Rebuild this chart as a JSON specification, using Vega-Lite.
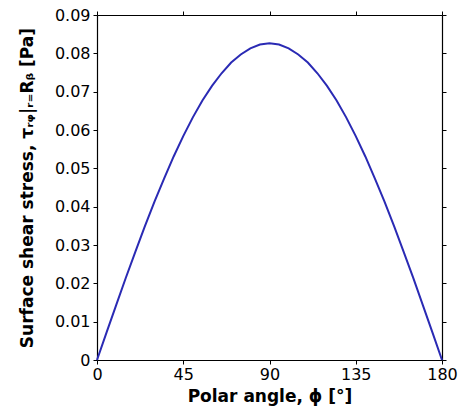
{
  "$schema": "https://vega.github.io/schema/vega-lite/v6.json",
  "width": 345,
  "height": 345,
  "autosize": "none",
  "padding": {"left": 97, "top": 15, "right": 20, "bottom": 49},
  "background": "white",
  "config": {
    "view": {"stroke": null},
    "font": "DejaVu Sans",
    "axis": {
      "domainColor": "black",
      "domainWidth": 1.2,
      "tickColor": "black",
      "tickSize": 4,
      "tickWidth": 1,
      "grid": false,
      "labelFlush": false,
      "labelOverlap": false,
      "labelFont": "DejaVu Sans",
      "labelFontSize": 16,
      "labelColor": "black",
      "titleFont": "DejaVu Sans",
      "titleFontSize": 17,
      "titleFontWeight": "bold",
      "titleColor": "black"
    }
  },
  "data": {
    "values": [
      {"phi": 0, "tau": 0},
      {"phi": 5, "tau": 0.0072},
      {"phi": 10, "tau": 0.0143},
      {"phi": 15, "tau": 0.0214},
      {"phi": 20, "tau": 0.0282},
      {"phi": 25, "tau": 0.0349},
      {"phi": 30, "tau": 0.0413},
      {"phi": 35, "tau": 0.0473},
      {"phi": 40, "tau": 0.0531},
      {"phi": 45, "tau": 0.0584},
      {"phi": 50, "tau": 0.0633},
      {"phi": 55, "tau": 0.0677},
      {"phi": 60, "tau": 0.0715},
      {"phi": 65, "tau": 0.0748},
      {"phi": 70, "tau": 0.0776},
      {"phi": 75, "tau": 0.0797},
      {"phi": 80, "tau": 0.0813},
      {"phi": 85, "tau": 0.0823},
      {"phi": 90, "tau": 0.0826},
      {"phi": 95, "tau": 0.0823},
      {"phi": 100, "tau": 0.0813},
      {"phi": 105, "tau": 0.0797},
      {"phi": 110, "tau": 0.0776},
      {"phi": 115, "tau": 0.0748},
      {"phi": 120, "tau": 0.0715},
      {"phi": 125, "tau": 0.0677},
      {"phi": 130, "tau": 0.0633},
      {"phi": 135, "tau": 0.0584},
      {"phi": 140, "tau": 0.0531},
      {"phi": 145, "tau": 0.0473},
      {"phi": 150, "tau": 0.0413},
      {"phi": 155, "tau": 0.0349},
      {"phi": 160, "tau": 0.0282},
      {"phi": 165, "tau": 0.0214},
      {"phi": 170, "tau": 0.0143},
      {"phi": 175, "tau": 0.0072},
      {"phi": 180, "tau": 0}
    ]
  },
  "layer": [
    {
      "mark": {"type": "line", "color": "#2a2ab4", "strokeWidth": 2},
      "encoding": {
        "x": {
          "field": "phi",
          "type": "quantitative",
          "scale": {"domain": [0, 180], "nice": false, "zero": false},
          "axis": {
            "orient": "bottom",
            "values": [0, 45, 90, 135, 180],
            "title": "Polar angle, ϕ [°]",
            "labelPadding": 2,
            "titlePadding": 6
          }
        },
        "y": {
          "field": "tau",
          "type": "quantitative",
          "scale": {"domain": [0, 0.09], "nice": false},
          "axis": {
            "orient": "left",
            "values": [0, 0.01, 0.02, 0.03, 0.04, 0.05, 0.06, 0.07, 0.08, 0.09],
            "format": "~g",
            "title": "Surface shear stress, τᵣᵩ|ᵣ₌Rᵦ [Pa]",
            "labelPadding": 3,
            "titlePadding": 18
          }
        }
      }
    },
    {
      "mark": {"type": "line", "opacity": 0},
      "encoding": {
        "x": {
          "field": "phi",
          "type": "quantitative",
          "axis": {
            "orient": "top",
            "values": [0, 45, 90, 135, 180],
            "labels": false,
            "title": null
          }
        },
        "y": {
          "field": "tau",
          "type": "quantitative",
          "axis": {
            "orient": "right",
            "values": [0, 0.01, 0.02, 0.03, 0.04, 0.05, 0.06, 0.07, 0.08, 0.09],
            "labels": false,
            "title": null
          }
        }
      }
    }
  ],
  "resolve": {"axis": {"x": "independent", "y": "independent"}}
}
